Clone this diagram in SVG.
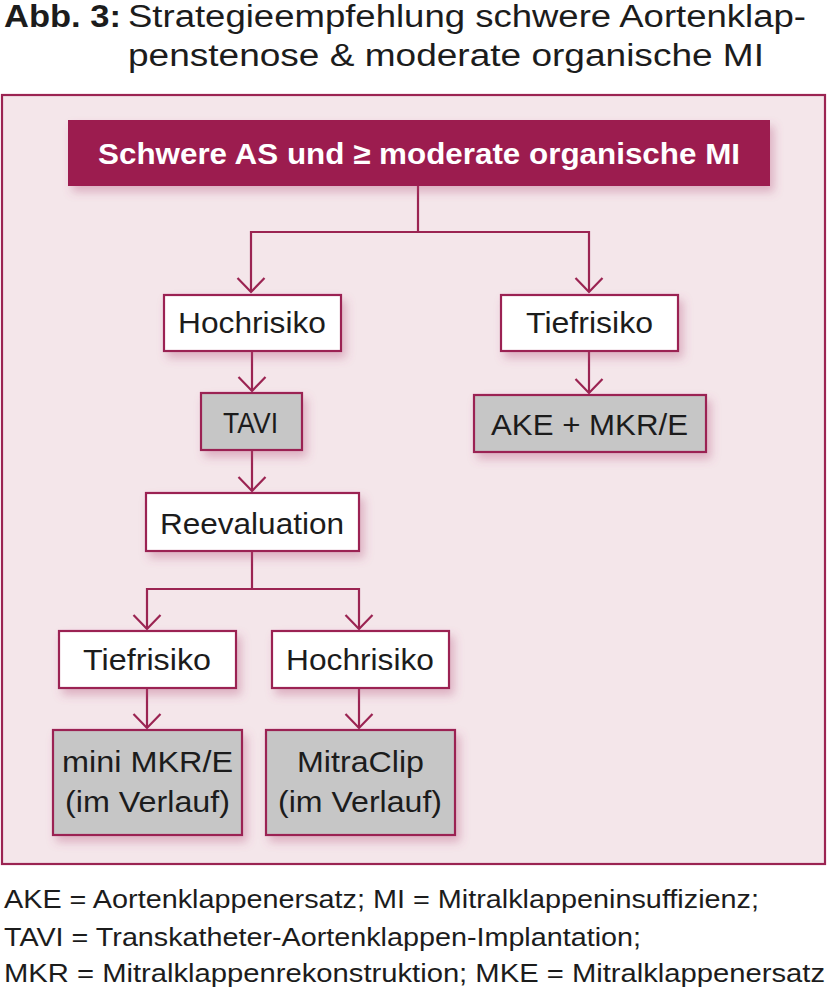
<svg xmlns="http://www.w3.org/2000/svg" width="828" height="1008" viewBox="0 0 828 1008">
<defs>
<style>
.t{font-family:"Liberation Sans",Arial,sans-serif;fill:#1c1c1c}
.box{fill:#ffffff;stroke:#9b2452;stroke-width:2.2}
.gbox{fill:#c6c6c6;stroke:#9b2452;stroke-width:2.2}
.node{font-size:29px;text-anchor:start}
.con{fill:none;stroke:#9b2452;stroke-width:2.2;marker-end:url(#arr)}
.ln{fill:none;stroke:#9b2452;stroke-width:2.2}
</style>
<filter id="sh" x="-20%" y="-30%" width="150%" height="170%">
<feDropShadow dx="4" dy="6" stdDeviation="5" flood-color="#b04a74" flood-opacity="0.35"/>
</filter>
<marker id="arr" viewBox="-16 -16 18 32" markerWidth="18" markerHeight="32" refX="0" refY="0" orient="auto" markerUnits="userSpaceOnUse" overflow="visible">
<path d="M-14,-13.5 L0,0 L-14,13.5" fill="none" stroke="#9b2452" stroke-width="2.2"/>
</marker>
</defs>
<rect width="828" height="1008" fill="#ffffff"/>
<g id="title">
<text class="t" x="4" y="27" font-size="31" font-weight="bold" textLength="117" lengthAdjust="spacingAndGlyphs">Abb. 3:</text>
<text class="t" x="128" y="27" font-size="31" textLength="678" lengthAdjust="spacingAndGlyphs">Strategieempfehlung schwere Aortenklap-</text>
<text class="t" x="128" y="66" font-size="31" textLength="636" lengthAdjust="spacingAndGlyphs">penstenose &amp; moderate organische MI</text>
</g>
<rect id="frame" x="2" y="95" width="823" height="769" fill="#f4e6ea" stroke="#9b2452" stroke-width="2.2"/>
<g id="connectors">
<path class="ln" d="M418,186 V232"/>
<path class="con" d="M418,232 H251 V292"/>
<path class="con" d="M418,232 H589 V292"/>
<path class="con" d="M252,351 V391"/>
<path class="con" d="M252,450 V491"/>
<path class="con" d="M589,351 V393"/>
<path class="ln" d="M252,551 V589"/>
<path class="con" d="M252,589 H147 V629"/>
<path class="con" d="M252,589 H359 V629"/>
<path class="con" d="M147,688 V728"/>
<path class="con" d="M359,688 V728"/>
</g>
<g id="n-header">
<rect x="68" y="120" width="702" height="66" fill="#9c1d4f" filter="url(#sh)"/>
<text x="98" y="164" font-family="Liberation Sans,Arial,sans-serif" font-weight="bold" font-size="30" fill="#ffffff" textLength="642" lengthAdjust="spacingAndGlyphs">Schwere AS und ≥ moderate organische MI</text>
</g>
<g id="n-hoch1">
<rect class="box" x="164" y="295" width="177" height="56" filter="url(#sh)"/>
<text class="t node" x="178" y="333" textLength="148" lengthAdjust="spacingAndGlyphs">Hochrisiko</text>
</g>
<g id="n-tief1">
<rect class="box" x="501" y="295" width="177" height="56" filter="url(#sh)"/>
<text class="t node" x="526" y="333" textLength="127" lengthAdjust="spacingAndGlyphs">Tiefrisiko</text>
</g>
<g id="n-tavi">
<rect class="gbox" x="201" y="393" width="101" height="57" filter="url(#sh)"/>
<text class="t node" x="223" y="433" textLength="55" lengthAdjust="spacingAndGlyphs">TAVI</text>
</g>
<g id="n-ake">
<rect class="gbox" x="474" y="395" width="232" height="57" filter="url(#sh)"/>
<text class="t node" x="491" y="435" textLength="197" lengthAdjust="spacingAndGlyphs">AKE + MKR/E</text>
</g>
<g id="n-reeval">
<rect class="box" x="146" y="493" width="213" height="58" filter="url(#sh)"/>
<text class="t node" x="160" y="534" textLength="184" lengthAdjust="spacingAndGlyphs">Reevaluation</text>
</g>
<g id="n-tief2">
<rect class="box" x="59" y="631" width="177" height="57" filter="url(#sh)"/>
<text class="t node" x="83" y="670" textLength="128" lengthAdjust="spacingAndGlyphs">Tiefrisiko</text>
</g>
<g id="n-hoch2">
<rect class="box" x="272" y="631" width="177" height="57" filter="url(#sh)"/>
<text class="t node" x="286" y="670" textLength="148" lengthAdjust="spacingAndGlyphs">Hochrisiko</text>
</g>
<g id="n-mini">
<rect class="gbox" x="53" y="730" width="189" height="105" filter="url(#sh)"/>
<text class="t node" x="62" y="772" textLength="171" lengthAdjust="spacingAndGlyphs">mini MKR/E</text>
<text class="t node" x="65" y="812" textLength="165" lengthAdjust="spacingAndGlyphs">(im Verlauf)</text>
</g>
<g id="n-mitra">
<rect class="gbox" x="266" y="730" width="189" height="105" filter="url(#sh)"/>
<text class="t node" x="297" y="772" textLength="127" lengthAdjust="spacingAndGlyphs">MitraClip</text>
<text class="t node" x="278" y="812" textLength="164" lengthAdjust="spacingAndGlyphs">(im Verlauf)</text>
</g>
<g id="footnotes">
<text class="t" x="4" y="908" font-size="26" textLength="755" lengthAdjust="spacingAndGlyphs">AKE = Aortenklappenersatz; MI = Mitralklappeninsuffizienz;</text>
<text class="t" x="4" y="946" font-size="26" textLength="637" lengthAdjust="spacingAndGlyphs">TAVI = Transkatheter-Aortenklappen-Implantation;</text>
<text class="t" x="4" y="982" font-size="26" textLength="821" lengthAdjust="spacingAndGlyphs">MKR = Mitralklappenrekonstruktion; MKE = Mitralklappenersatz</text>
</g>
</svg>
